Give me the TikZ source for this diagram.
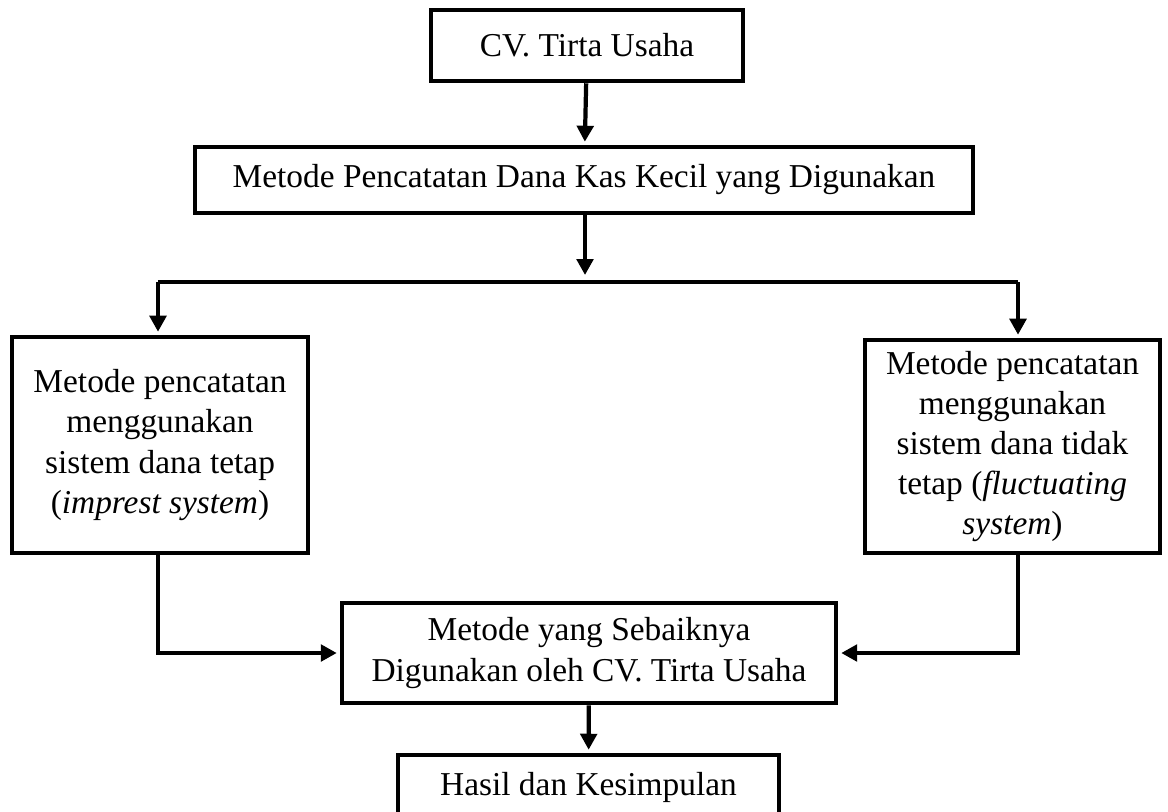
\documentclass[tikz,border=0pt]{standalone}
\usepackage{fontspec}
\setmainfont{Liberation Serif}
\usetikzlibrary{arrows.meta,positioning}
\tikzstyle{kotak} = [rectangle, draw=black, line width=2.6pt, align=center, inner sep=2pt]
\tikzstyle{panah} = [-{Triangle[length=0.32cm,width=0.33cm]}, line width=2.4pt, shorten >=0.06cm]

\begin{document}
\begin{tikzpicture}[x=0.02cm,y=-0.02cm,font=\fontsize{19}{22.8}\selectfont]
  \useasboundingbox (0,0) rectangle (1168,811);
          \node (cv) [kotak, minimum width=6.24cm, minimum height=1.42cm] at (587,45.5) {CV. Tirta Usaha};
          \node (metode) [kotak, minimum width=15.56cm, minimum height=1.32cm] at (584,180) {Metode Pencatatan Dana Kas Kecil yang Digunakan};
          \node (kiri) [kotak, minimum width=5.92cm, minimum height=4.32cm] at (160,445) {Metode pencatatan\\menggunakan\\sistem dana tetap\\(\textit{imprest system})};
          \node (kanan) [kotak, minimum width=5.9cm, minimum height=4.26cm] at (1012.5,446.5) {Metode pencatatan\\menggunakan\\sistem dana tidak\\tetap (\textit{fluctuating}\\\textit{system})};
          \node (pilih) [kotak, minimum width=9.88cm, minimum height=2cm] at (589,653) {Metode yang Sebaiknya\\Digunakan oleh CV. Tirta Usaha};
          \node (hasil) [kotak, minimum width=7.62cm, minimum height=1.28cm] at (588.5,787) {Hasil dan Kesimpulan};

          \coordinate (cabang) at (585,275);
          \coordinate (kiriAtas) at (158,282);
          \coordinate (kananAtas) at (1018,282);

          \draw[panah] (cv) -- (metode);
          \draw[panah, shorten >=0pt] (metode.south -| cabang) -- (cabang);
          \draw[line width=2.4pt] (kiriAtas) -- (kananAtas);
          \draw[panah] (kiriAtas) -- (kiri.north -| kiriAtas);
          \draw[panah] (kananAtas) -- (kanan.north -| kananAtas);
          \draw[panah] (kiri.south -| kiriAtas) |- (pilih.west);
          \draw[panah] (kanan.south -| kananAtas) |- (pilih.east);
          \draw[panah] (pilih) -- (hasil);
\end{tikzpicture}
\end{document}
